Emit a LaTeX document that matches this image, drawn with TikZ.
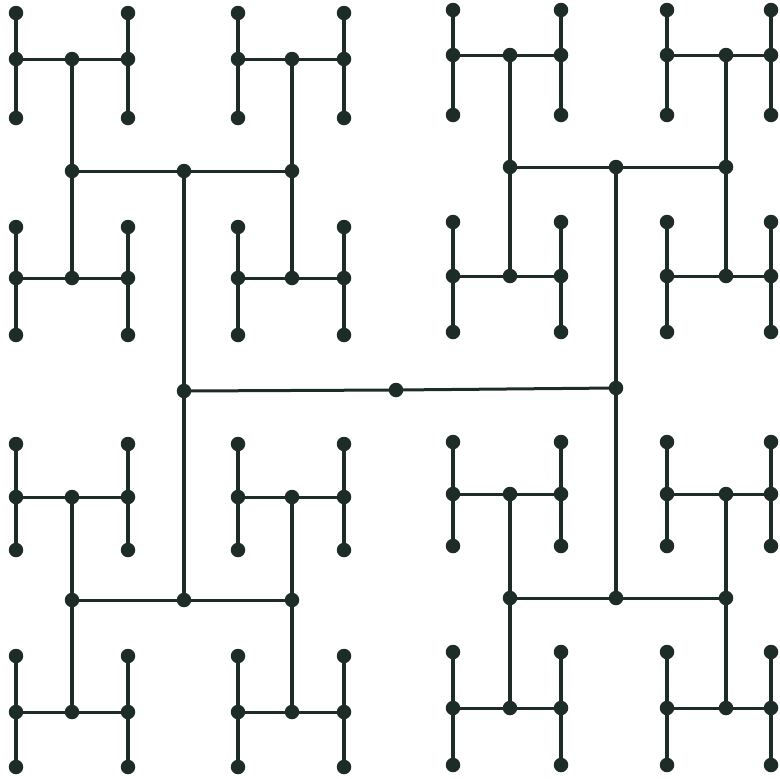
\documentclass[tikz,border=0pt]{standalone}
\definecolor{ink}{RGB}{30,44,40}
\begin{document}
\begin{tikzpicture}[x=1pt,y=-1pt,
  dot/.style={circle,fill=ink,inner sep=0pt,minimum size=14.5pt},
  vline/.style={draw=ink,line width=4pt},
  hline/.style={draw=ink,line width=3pt}]
\useasboundingbox (0,0) rectangle (779,779);
% column positions
\def\XA{{16,128,238,344,453,561,667,771}}
\def\XB{{72,292,510,726}}
\def\XC{{184,616}}
% row positions, left half / right half
\def\YLa{{13,118,227,335,444,550,656,767}}
\def\YRa{{10,115,222,332,442,546,652,765}}
\def\YLb{{59,278,497,712}}
\def\YRb{{55,276,494,708}}
\def\YLc{{171,600}}
\def\YRc{{167,598}}
% level 0
\node[dot] (n0) at (396,390) {};
% level 1
\node[dot] (n1-0) at (184,391) {};
\node[dot] (n1-1) at (616,388) {};
% level 2
\foreach \b in {0,1}{\foreach \p in {0,1}{
  \pgfmathsetmacro\xx{\XC[\b]}
  \ifnum\b<1 \pgfmathsetmacro\yy{\YLc[\p]}\else\pgfmathsetmacro\yy{\YRc[\p]}\fi
  \node[dot] (n2-\b-\p) at (\xx,\yy) {};
}}
% level 3
\foreach \a in {0,...,3}{\foreach \p in {0,1}{
  \pgfmathsetmacro\xx{\XB[\a]}
  \ifnum\a<2 \pgfmathsetmacro\yy{\YLc[\p]}\else\pgfmathsetmacro\yy{\YRc[\p]}\fi
  \node[dot] (n3-\a-\p) at (\xx,\yy) {};
}}
% level 4
\foreach \a in {0,...,3}{\foreach \q in {0,...,3}{
  \pgfmathsetmacro\xx{\XB[\a]}
  \ifnum\a<2 \pgfmathsetmacro\yy{\YLb[\q]}\else\pgfmathsetmacro\yy{\YRb[\q]}\fi
  \node[dot] (n4-\a-\q) at (\xx,\yy) {};
}}
% level 5
\foreach \c in {0,...,7}{\foreach \q in {0,...,3}{
  \pgfmathsetmacro\xx{\XA[\c]}
  \ifnum\c<4 \pgfmathsetmacro\yy{\YLb[\q]}\else\pgfmathsetmacro\yy{\YRb[\q]}\fi
  \node[dot] (n5-\c-\q) at (\xx,\yy) {};
}}
% level 6 (leaves)
\foreach \c in {0,...,7}{\foreach \r in {0,...,7}{
  \pgfmathsetmacro\xx{\XA[\c]}
  \ifnum\c<4 \pgfmathsetmacro\yy{\YLa[\r]}\else\pgfmathsetmacro\yy{\YRa[\r]}\fi
  \node[dot] (n6-\c-\r) at (\xx,\yy) {};
}}
% connectors
\foreach \b in {0,1}{
  \draw[hline] (n0.center) -- (n1-\b.center);
  \foreach \p in {0,1}{
    \draw[vline] (n1-\b.center) -- (n2-\b-\p.center);
  }
}
\foreach \a in {0,...,3}{\foreach \p in {0,1}{
  \pgfmathtruncatemacro\b{\a/2}
  \draw[hline] (n2-\b-\p.center) -- (n3-\a-\p.center);
}}
\foreach \a in {0,...,3}{\foreach \q in {0,...,3}{
  \pgfmathtruncatemacro\p{\q/2}
  \draw[vline] (n3-\a-\p.center) -- (n4-\a-\q.center);
}}
\foreach \c in {0,...,7}{\foreach \q in {0,...,3}{
  \pgfmathtruncatemacro\a{\c/2}
  \draw[hline] (n4-\a-\q.center) -- (n5-\c-\q.center);
}}
\foreach \c in {0,...,7}{\foreach \r in {0,...,7}{
  \pgfmathtruncatemacro\q{\r/2}
  \draw[vline] (n5-\c-\q.center) -- (n6-\c-\r.center);
}}
\end{tikzpicture}
\end{document}
